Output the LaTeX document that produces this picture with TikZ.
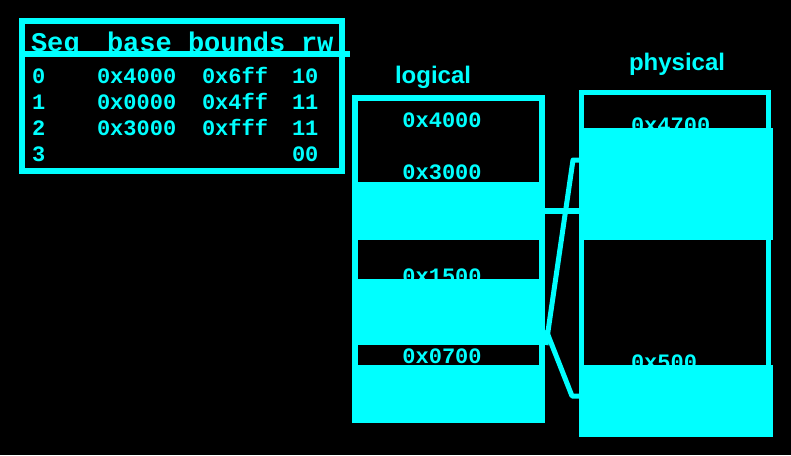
\documentclass[tikz,border=0pt]{standalone}
\usepackage{fontspec}
\setmonofont{Liberation Mono}
\setsansfont{Liberation Sans}
\definecolor{cy}{RGB}{0,255,255}
\begin{document}
\begin{tikzpicture}[x=1pt,y=-1pt,
  mono/.style={font=\ttfamily\bfseries\fontsize{22}{22}\selectfont, text=cy, inner sep=0, outer sep=0, anchor=base west},
  hdr/.style={font=\ttfamily\bfseries\fontsize{27}{27}\selectfont, text=cy, inner sep=0, outer sep=0, anchor=base west},
  ttl/.style={font=\sffamily\bfseries\fontsize{24}{24}\selectfont, text=cy, inner sep=0, outer sep=0, anchor=base west},
  frame/.style={draw=cy, inner sep=0, outer sep=0, anchor=north west},
  band/.style={fill=cy, inner sep=0, outer sep=0, anchor=north west},
  wire/.style={draw=cy, line width=5pt, line join=round}]
\fill[black] (0,0) rectangle (791,455);
\useasboundingbox (0,0) rectangle (791,455);

% segment table
\node[frame, line width=6pt, minimum width=320pt, minimum height=150pt] (tbl) at (22,21) {};
\draw[cy, line width=6pt] (19,54) -- (350,54);
\node[hdr] (hseg) at (31,51) {Seg};
\node[hdr] (hbase) at (107,51) {base};
\node[hdr] (hbounds) at (188,51) {bounds};
\node[hdr] (hrw) at (301,51) {rw};

\node[mono] (r0a) at (32,83) {0};
\node[mono] (r0b) at (97,83) {0x4000};
\node[mono] (r0c) at (202,83) {0x6ff};
\node[mono] (r0d) at (292,83) {10};
\node[mono] (r1a) at (32,109) {1};
\node[mono] (r1b) at (97,109) {0x0000};
\node[mono] (r1c) at (202,109) {0x4ff};
\node[mono] (r1d) at (292,109) {11};
\node[mono] (r2a) at (32,135) {2};
\node[mono] (r2b) at (97,135) {0x3000};
\node[mono] (r2c) at (202,135) {0xfff};
\node[mono] (r2d) at (292,135) {11};
\node[mono] (r3a) at (32,161) {3};
\node[mono] (r3d) at (292,161) {00};

% logical address space
\node[ttl] (tlog) at (395,83) {logical};
\node[frame, line width=6pt, minimum width=187pt, minimum height=322pt] (lframe) at (355,98) {};
\node[band, minimum width=193pt, minimum height=58pt] (lb2) at (352,182) {};
\node[band, minimum width=193pt, minimum height=66pt] (lb1) at (352,279) {};
\node[band, minimum width=193pt, minimum height=58pt] (lb0) at (352,365) {};
\node[mono, anchor=base] (l4000) at (442,127) {0x4000};
\node[mono, anchor=base] (l3000) at (442,179) {0x3000};
\node[mono, anchor=base] (l1500) at (442,283) {0x1500};
\node[mono, anchor=base] (l0700) at (442,363) {0x0700};

% physical address space
\node[ttl] (tphys) at (629,70) {physical};
\node[frame, line width=5pt, minimum width=187pt, minimum height=342pt] (pframe) at (581.5,92.5) {};
\node[band, minimum width=194pt, minimum height=112pt] (pb2) at (579,128) {};
\node[band, minimum width=194pt, minimum height=72pt] (pb1) at (579,365) {};
\node[mono] (p4700) at (631,132) {0x4700};
\node[mono] (p500) at (631,369) {0x500};

% connectors
\coordinate (a1) at (546,345);
\coordinate (a2) at (573,160);
\coordinate (b1) at (546,330);
\coordinate (b2) at (572,396);
\draw[wire, line width=6pt] (lb2.east) -- (lb2.east -| pframe.west);
\draw[wire] (a1) -- (a2) -- (a2 -| pframe.west);
\draw[wire] (b1) -- (b2) -- (b2 -| pframe.west);
\end{tikzpicture}
\end{document}
